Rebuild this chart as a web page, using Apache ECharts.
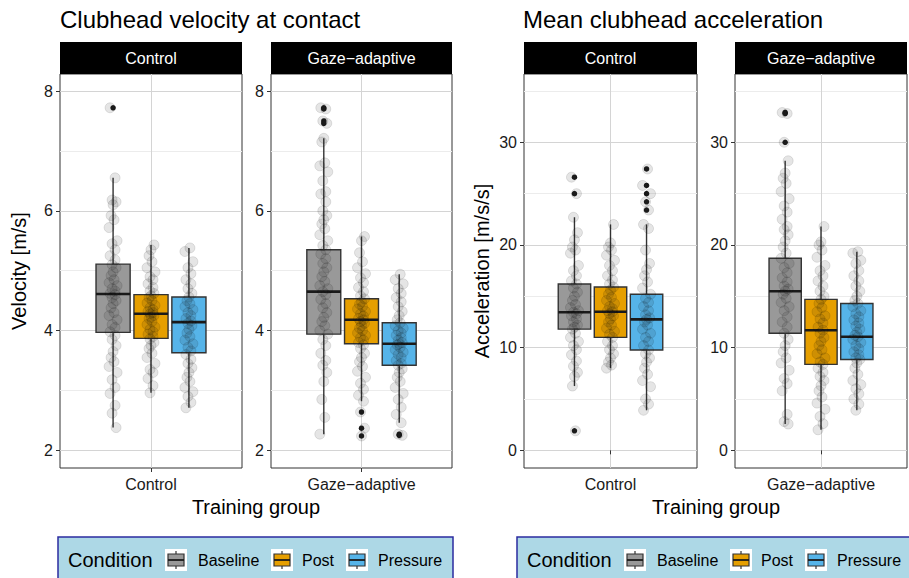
<!DOCTYPE html>
<html>
<head>
<meta charset="utf-8">
<script src="https://cdn.jsdelivr.net/npm/echarts@6/dist/echarts.min.js"></script>
<style>
html,body{margin:0;padding:0;background:#fff}
#main{width:909px;height:578px}
</style>
</head>
<body>
<div id="main"></div>
<script>
var groups = ['Control', 'Gaze\u2212adaptive'];
var conditions = ['Baseline', 'Post', 'Pressure'];
var colors = ['#999999', '#E69F00', '#56B4E9'];

// box stats: [lower whisker, q1, median, q3, upper whisker], one row per condition
var velCtrlStats = [[2.38, 3.97, 4.61, 5.11, 6.55], [2.96, 3.87, 4.28, 4.60, 5.43], [2.71, 3.63, 4.14, 4.56, 5.38]];
var velGazeStats = [[2.27, 3.94, 4.65, 5.35, 7.21], [2.82, 3.78, 4.18, 4.53, 5.57], [2.46, 3.42, 3.78, 4.13, 4.94]];
var accCtrlStats = [[6.26, 11.8, 13.45, 16.2, 22.7], [8.0, 11.0, 13.5, 15.9, 22.0], [3.9, 9.77, 12.75, 15.2, 22.0]];
var accGazeStats = [[2.56, 11.4, 15.5, 18.7, 28.2], [2.0, 8.37, 11.7, 14.7, 21.8], [3.9, 8.85, 11.06, 14.3, 19.35]];

// outliers per condition
var velCtrlOut = [[7.72], [], []];
var velGazeOut = [[7.72, 7.70, 7.50, 7.46], [2.64, 2.37, 2.24], [2.27, 2.25]];
var accCtrlOut = [[26.6, 25.0, 1.9], [], [27.4, 25.8, 25.0, 24.2, 23.4]];
var accGazeOut = [[32.9, 32.8, 30.0], [], []];

// individual observations (jittered points)
var velCtrlBase = [7.72, 6.55, 6.18, 6.15, 6.1, 5.92, 5.85, 5.72, 5.5, 5.45, 5.35, 5.25, 5.18, 5.1, 5.05, 4.98, 4.92, 4.85, 4.8, 4.75, 4.7, 4.66, 4.62, 4.6, 4.55, 4.5, 4.45, 4.38, 4.3, 4.25, 4.18, 4.1, 4.05, 3.98, 3.92, 3.85, 3.75, 3.65, 3.55, 3.48, 3.4, 3.3, 3.18, 3.05, 2.95, 2.75, 2.62, 2.38];
var velCtrlPost = [5.43, 5.35, 5.25, 5.15, 5.05, 4.98, 4.9, 4.85, 4.78, 4.72, 4.66, 4.62, 4.58, 4.55, 4.5, 4.46, 4.42, 4.38, 4.35, 4.32, 4.3, 4.28, 4.25, 4.22, 4.2, 4.15, 4.1, 4.06, 4.02, 3.98, 3.94, 3.9, 3.86, 3.8, 3.75, 3.7, 3.62, 3.55, 3.45, 3.35, 3.3, 3.2, 3.08, 2.96];
var velCtrlPress = [5.38, 5.32, 5.15, 5.05, 4.95, 4.85, 4.78, 4.7, 4.62, 4.56, 4.5, 4.45, 4.4, 4.35, 4.3, 4.25, 4.2, 4.16, 4.12, 4.08, 4.02, 3.96, 3.9, 3.84, 3.78, 3.72, 3.66, 3.6, 3.52, 3.45, 3.38, 3.3, 3.22, 3.15, 3.05, 2.98, 2.9, 2.8, 2.71];
var velGazeBase = [7.72, 7.7, 7.5, 7.46, 7.21, 7.15, 6.8, 6.75, 6.65, 6.5, 6.32, 6.28, 6.15, 6.0, 5.92, 5.85, 5.78, 5.7, 5.6, 5.5, 5.42, 5.35, 5.28, 5.2, 5.12, 5.05, 4.98, 4.9, 4.82, 4.75, 4.7, 4.65, 4.6, 4.52, 4.45, 4.38, 4.3, 4.22, 4.15, 4.08, 4.0, 3.94, 3.85, 3.75, 3.62, 3.5, 3.42, 3.3, 3.15, 2.85, 2.55, 2.27];
var velGazePost = [5.57, 5.5, 5.3, 5.15, 5.05, 4.95, 4.88, 4.8, 4.72, 4.65, 4.58, 4.53, 4.48, 4.44, 4.4, 4.36, 4.32, 4.28, 4.24, 4.2, 4.18, 4.15, 4.12, 4.08, 4.04, 4.0, 3.96, 3.92, 3.88, 3.84, 3.8, 3.76, 3.7, 3.62, 3.55, 3.48, 3.4, 3.32, 3.22, 3.12, 3.02, 2.92, 2.82, 2.64, 2.37, 2.24];
var velGazePress = [4.94, 4.85, 4.78, 4.7, 4.62, 4.55, 4.48, 4.4, 4.32, 4.25, 4.18, 4.13, 4.08, 4.04, 4.0, 3.96, 3.92, 3.88, 3.84, 3.8, 3.78, 3.76, 3.72, 3.68, 3.64, 3.6, 3.55, 3.5, 3.45, 3.42, 3.36, 3.3, 3.22, 3.15, 3.05, 2.95, 2.85, 2.72, 2.6, 2.46, 2.27, 2.25];
var accCtrlBase = [26.6, 25.0, 22.7, 21.2, 20.5, 19.8, 19.5, 19.2, 18.0, 17.5, 17.0, 16.5, 16.2, 15.8, 15.4, 15.0, 14.6, 14.2, 13.9, 13.6, 13.45, 13.3, 13.1, 12.8, 12.5, 12.2, 12.0, 11.8, 11.4, 11.0, 10.6, 10.2, 9.8, 9.3, 8.7, 8.2, 7.6, 7.2, 6.26, 1.9];
var accCtrlPost = [22.0, 20.2, 19.8, 19.5, 19.0, 18.5, 18.0, 17.5, 17.0, 16.6, 16.2, 15.9, 15.6, 15.2, 14.9, 14.6, 14.3, 14.0, 13.8, 13.6, 13.5, 13.3, 13.1, 12.8, 12.5, 12.2, 11.9, 11.6, 11.3, 11.0, 10.6, 10.2, 9.8, 9.4, 9.0, 8.6, 8.3, 8.0];
var accCtrlPress = [27.4, 25.8, 25.0, 24.2, 23.4, 22.0, 21.6, 19.5, 18.2, 17.6, 17.0, 16.4, 15.8, 15.2, 14.8, 14.4, 14.0, 13.6, 13.2, 12.9, 12.75, 12.5, 12.2, 11.8, 11.4, 11.0, 10.6, 10.2, 9.77, 9.4, 9.0, 8.6, 8.0, 7.4, 6.8, 6.2, 5.0, 4.5, 3.9];
var accGazeBase = [32.9, 32.8, 30.0, 28.2, 27.0, 26.5, 26.0, 25.2, 24.5, 23.8, 23.2, 22.5, 21.8, 21.5, 21.0, 20.4, 19.8, 19.2, 18.7, 18.2, 17.8, 17.3, 16.8, 16.4, 16.0, 15.7, 15.5, 15.2, 14.8, 14.4, 14.0, 13.6, 13.0, 12.5, 12.0, 11.4, 10.8, 10.2, 9.6, 9.0, 8.5, 7.8, 7.0, 6.5, 5.8, 3.5, 2.8, 2.56];
var accGazePost = [21.8, 20.3, 20.0, 19.5, 18.8, 18.0, 17.5, 17.0, 16.5, 16.0, 15.5, 15.0, 14.7, 14.3, 13.9, 13.5, 13.1, 12.8, 12.4, 12.0, 11.7, 11.4, 11.0, 10.6, 10.2, 9.8, 9.4, 9.0, 8.6, 8.37, 8.0, 7.6, 7.2, 6.8, 6.3, 5.8, 5.2, 4.6, 4.0, 3.3, 2.6, 2.0];
var accGazePress = [19.35, 19.2, 18.5, 18.2, 17.5, 17.0, 16.5, 16.0, 15.5, 15.0, 14.6, 14.3, 14.0, 13.6, 13.3, 13.0, 12.7, 12.4, 12.1, 11.8, 11.5, 11.2, 11.06, 10.8, 10.5, 10.2, 9.9, 9.6, 9.3, 9.0, 8.85, 8.5, 8.0, 7.4, 6.8, 6.4, 6.0, 5.5, 5.0, 4.5, 3.9];

var velTicks = [2, 4, 6, 8], velMinor = [3, 5, 7];
var accTicks = [0, 10, 20, 30], accMinor = [5, 15, 25, 35];

var FONT = '"Liberation Sans", Arial, sans-serif';
var chart = echarts.init(document.getElementById('main'), null, {renderer: 'svg'});

// facet panels: left, width, y range, stats, outliers, points
var panels = [
    {left: 60, width: 182, min: 1.705, max: 8.284, ticks: velTicks, minor: velMinor, grp: 0, stats: velCtrlStats, out: velCtrlOut, pts: [velCtrlBase, velCtrlPost, velCtrlPress]},
    {left: 271, width: 181, min: 1.705, max: 8.284, ticks: velTicks, minor: velMinor, grp: 1, stats: velGazeStats, out: velGazeOut, pts: [velGazeBase, velGazePost, velGazePress]},
    {left: 524, width: 173, min: -1.72, max: 36.65, ticks: accTicks, minor: accMinor, grp: 0, stats: accCtrlStats, out: accCtrlOut, pts: [accCtrlBase, accCtrlPost, accCtrlPress]},
    {left: 735, width: 172, min: -1.72, max: 36.65, ticks: accTicks, minor: accMinor, grp: 1, stats: accGazeStats, out: accGazeOut, pts: [accGazeBase, accGazePost, accGazePress]}
];
var xPos = [1.4, 2.4, 3.4];
var jitter = [-3, 2, -1, 3, 0, -2, 1, -4, 4, -1, 2];

function boxItem(params, api) {
    var x = api.value(0), hw = 0.45;
    var pLow = api.coord([x, api.value(1)]);
    var pQ1 = api.coord([x, api.value(2)]);
    var pMed = api.coord([x, api.value(3)]);
    var pQ3 = api.coord([x, api.value(4)]);
    var pHigh = api.coord([x, api.value(5)]);
    var l = api.coord([x - hw, api.value(3)])[0];
    var r = api.coord([x + hw, api.value(3)])[0];
    var c = colors[api.value(6)];
    return {type: 'group', children: [
        {type: 'line', shape: {x1: pLow[0], y1: pLow[1], x2: pQ1[0], y2: pQ1[1]}, style: {stroke: '#333', lineWidth: 1.4}},
        {type: 'line', shape: {x1: pQ3[0], y1: pQ3[1], x2: pHigh[0], y2: pHigh[1]}, style: {stroke: '#333', lineWidth: 1.4}},
        {type: 'rect', shape: {x: l, y: pQ3[1], width: r - l, height: pQ1[1] - pQ3[1]}, style: {fill: c, stroke: '#333', lineWidth: 1.4}},
        {type: 'line', shape: {x1: l, y1: pMed[1], x2: r, y2: pMed[1]}, style: {stroke: '#1a1a1a', lineWidth: 2.6}}
    ]};
}

var grids = [], xAxes = [], yAxes = [], series = [], graphics = [];
panels.forEach(function (p, i) {
    grids.push({left: p.left, top: 74, width: p.width, height: 394, show: true, borderColor: '#333', borderWidth: 1, backgroundColor: '#fff'});
    xAxes.push({
        type: 'value', gridIndex: i, min: 0, max: 4.8,
        axisLine: {show: false},
        axisTick: {show: true, length: 4, customValues: [2.4], lineStyle: {color: '#333'}},
        axisLabel: {customValues: [2.4], formatter: function () { return groups[p.grp]; }, color: '#1a1a1a', fontSize: 16, fontFamily: FONT, margin: 8},
        splitLine: {show: true, lineStyle: {color: '#d4d4d4', width: 1}}
    });
    yAxes.push({
        type: 'value', gridIndex: i, min: p.min, max: p.max,
        axisLine: {show: false},
        axisTick: {show: true, length: 4, customValues: p.ticks, lineStyle: {color: '#333'}},
        axisLabel: {customValues: p.ticks, color: '#1a1a1a', fontSize: 16, fontFamily: FONT, margin: 7},
        splitLine: {show: true, lineStyle: {color: '#d4d4d4', width: 1}}
    });
    yAxes.push({
        type: 'value', gridIndex: i, min: p.min, max: p.max, position: 'left',
        axisLine: {show: false},
        axisTick: {show: false, customValues: p.minor},
        axisLabel: {show: false},
        splitLine: {show: true, lineStyle: {color: '#ececec', width: 1}}
    });
    var boxData = p.stats.map(function (s, k) { return [xPos[k]].concat(s).concat([k]); });
    series.push({
        type: 'custom', xAxisIndex: i, yAxisIndex: 2 * i, renderItem: boxItem,
        data: boxData, encode: {x: 0, y: [1, 2, 3, 4, 5]}, z: 2, silent: true
    });
    var outData = [];
    p.out.forEach(function (vals, k) { vals.forEach(function (v) { outData.push([xPos[k], v]); }); });
    series.push({
        type: 'scatter', xAxisIndex: i, yAxisIndex: 2 * i, data: outData,
        symbolSize: 5.5, itemStyle: {color: '#1a1a1a', opacity: 1}, z: 3, silent: true
    });
    var ptData = [];
    p.pts.forEach(function (vals, k) {
        vals.forEach(function (v, j) {
            ptData.push({value: [xPos[k], v], symbolOffset: [jitter[(j + k * 3) % jitter.length], 0]});
        });
    });
    series.push({
        type: 'scatter', xAxisIndex: i, yAxisIndex: 2 * i, data: ptData,
        symbolSize: 10, itemStyle: {color: 'rgba(30,30,30,0.14)', borderColor: 'rgba(0,0,0,0.13)', borderWidth: 1}, z: 4, silent: true
    });
    // facet strip
    graphics.push({type: 'rect', shape: {x: p.left, y: 42, width: p.width, height: 32}, style: {fill: '#000'}});
    graphics.push({type: 'text', x: p.left + p.width / 2, y: 58, style: {text: groups[p.grp], fill: '#fff', font: '16px ' + FONT, align: 'center', verticalAlign: 'middle'}});
});

// panel titles and axis titles
graphics.push({type: 'text', x: 60, y: 19, style: {text: 'Clubhead velocity at contact', fill: '#000', font: '24px ' + FONT, align: 'left', verticalAlign: 'middle'}});
graphics.push({type: 'text', x: 523, y: 19, style: {text: 'Mean clubhead acceleration', fill: '#000', font: '24px ' + FONT, align: 'left', verticalAlign: 'middle'}});
graphics.push({type: 'text', x: 256, y: 507, style: {text: 'Training group', fill: '#000', font: '20px ' + FONT, align: 'center', verticalAlign: 'middle'}});
graphics.push({type: 'text', x: 716, y: 507, style: {text: 'Training group', fill: '#000', font: '20px ' + FONT, align: 'center', verticalAlign: 'middle'}});
graphics.push({type: 'text', x: 19, y: 271, rotation: Math.PI / 2, style: {text: 'Velocity [m/s]', fill: '#000', font: '20px ' + FONT, align: 'center', verticalAlign: 'middle'}});
graphics.push({type: 'text', x: 482, y: 271, rotation: Math.PI / 2, style: {text: 'Acceleration [m/s/s]', fill: '#000', font: '20px ' + FONT, align: 'center', verticalAlign: 'middle'}});

// legends
function legendBox(x0, w) {
    graphics.push({type: 'rect', shape: {x: x0, y: 537, width: w, height: 60}, style: {fill: '#ADD8E6', stroke: '#2b2ba0', lineWidth: 1.5}});
    graphics.push({type: 'text', x: x0 + 10, y: 560, style: {text: 'Condition', fill: '#000', font: '20px ' + FONT, align: 'left', verticalAlign: 'middle'}});
    var keyX = [107, 213, 288], labX = [140, 244, 320];
    conditions.forEach(function (c, k) {
        var kx = x0 + keyX[k];
        graphics.push({type: 'rect', shape: {x: kx, y: 549, width: 22, height: 22}, style: {fill: '#fff'}});
        graphics.push({type: 'line', shape: {x1: kx + 11, y1: 551, x2: kx + 11, y2: 569}, style: {stroke: '#333', lineWidth: 1.2}});
        graphics.push({type: 'rect', shape: {x: kx + 3, y: 554, width: 16, height: 12}, style: {fill: colors[k], stroke: '#333', lineWidth: 1.2}});
        graphics.push({type: 'line', shape: {x1: kx + 3, y1: 560, x2: kx + 19, y2: 560}, style: {stroke: '#1a1a1a', lineWidth: 1.8}});
        graphics.push({type: 'text', x: x0 + labX[k], y: 560, style: {text: c, fill: '#000', font: '16px ' + FONT, align: 'left', verticalAlign: 'middle'}});
    });
}
legendBox(58, 395);
legendBox(517, 420);

chart.setOption({
    animation: false,
    backgroundColor: '#fff',
    grid: grids,
    xAxis: xAxes,
    yAxis: yAxes,
    series: series,
    graphic: graphics
});
</script>
</body>
</html>
